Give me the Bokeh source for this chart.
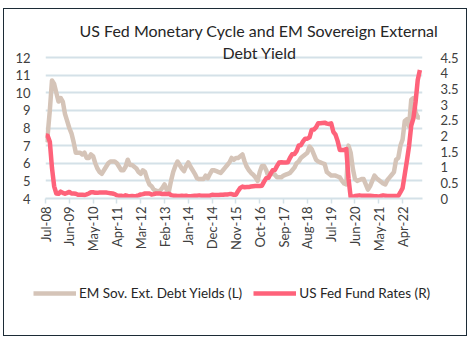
import pandas as pd
from bokeh.plotting import figure
from bokeh.layouts import column
from bokeh.models import (Range1d, LinearAxis, FixedTicker, Label, Legend, LegendItem,
                          ColumnDataSource, Title)
from bokeh.embed import file_html
from bokeh.resources import INLINE
import math

# ---------------- data ----------------
months = [d.strftime("%b-%y") for d in pd.date_range("2008-07-01", "2022-12-01", freq="MS")]

em_yield = [
    7.2, 7.6, 9.0, 10.7, 10.5, 10.0, 9.5, 9.7, 9.5, 8.8, 8.4, 8.0,
    7.7, 7.2, 6.6, 6.6, 6.6, 6.5, 6.6, 6.3, 6.3, 6.5, 6.4, 6.0,
    5.7, 5.5, 5.4, 5.6, 5.8, 6.0, 6.1, 6.1, 6.1, 6.0, 5.8, 5.6,
    5.6, 5.8, 6.2, 5.9, 5.9, 5.8, 5.7, 5.5, 5.4, 5.6, 5.5, 5.1,
    4.8, 4.7, 4.5, 4.45, 4.4, 4.45, 4.6, 4.8, 4.5, 4.4, 5.0, 5.5,
    5.85, 6.1, 5.9, 5.7, 5.55, 5.85, 6.05, 5.8, 5.6, 5.4, 5.15, 5.1,
    5.1, 5.1, 5.3, 5.15, 5.4, 5.6, 5.6, 5.55, 5.5, 5.45, 5.6, 5.75,
    5.9, 6.05, 6.3, 6.2, 6.3, 6.3, 6.4, 6.5, 6.1, 5.8, 5.6, 5.45,
    5.35, 5.2, 5.0, 5.5, 5.85, 5.85, 5.6, 5.25, 5.4, 5.4, 5.35, 5.2,
    5.2, 5.2, 5.3, 5.35, 5.4, 5.45, 5.6, 5.75, 6.0, 6.1, 6.3, 6.4,
    6.5, 6.6, 6.95, 6.8, 6.5, 6.2, 6.1, 6.05, 6.0, 5.95, 5.5, 5.4,
    5.3, 5.3, 5.3, 5.25, 5.2, 5.0, 4.85, 4.8, 7.0, 6.6, 5.7, 5.1,
    5.0, 5.05, 5.1, 5.1, 4.8, 4.5, 4.7, 5.0, 5.3, 5.15, 5.05, 4.95,
    4.85, 4.8, 5.05, 5.2, 5.35, 5.5, 6.2, 6.3, 7.0, 7.35, 8.4, 8.5,
    8.1, 9.6, 9.7, 8.9, 8.6, 8.6,
]

fed_rate = [
    2.01, 2.00, 1.81, 0.97, 0.39, 0.16,
    0.15, 0.22, 0.18, 0.15, 0.18, 0.21, 0.16, 0.16, 0.15, 0.12, 0.12, 0.12,
    0.11, 0.13, 0.16, 0.20, 0.20, 0.18, 0.18, 0.19, 0.19, 0.19, 0.19, 0.18,
    0.17, 0.16, 0.14, 0.10, 0.09, 0.09, 0.07, 0.10, 0.08, 0.07, 0.08, 0.07,
    0.08, 0.10, 0.13, 0.14, 0.16, 0.16, 0.16, 0.13, 0.14, 0.16, 0.16, 0.16,
    0.14, 0.15, 0.14, 0.15, 0.11, 0.09, 0.09, 0.08, 0.08, 0.09, 0.08, 0.09,
    0.07, 0.07, 0.08, 0.09, 0.09, 0.10, 0.09, 0.09, 0.09, 0.09, 0.09, 0.12,
    0.11, 0.11, 0.11, 0.12, 0.12, 0.13, 0.13, 0.14, 0.14, 0.12, 0.12, 0.24,
    0.34, 0.38, 0.36, 0.37, 0.37, 0.38, 0.39, 0.40, 0.40, 0.40, 0.41, 0.54,
    0.65, 0.66, 0.79, 0.90, 0.91, 1.04, 1.15, 1.16, 1.15, 1.15, 1.16, 1.30,
    1.41, 1.42, 1.51, 1.69, 1.70, 1.82, 1.91, 1.91, 1.95, 2.19, 2.20, 2.27,
    2.40, 2.40, 2.41, 2.42, 2.39, 2.38, 2.40, 2.13, 2.04, 1.83, 1.55, 1.55,
    1.55, 1.58, 0.65, 0.05, 0.05, 0.08, 0.09, 0.10, 0.09, 0.09, 0.09, 0.09,
    0.09, 0.08, 0.07, 0.07, 0.06, 0.08, 0.10, 0.09, 0.08, 0.08, 0.08, 0.08,
    0.08, 0.08, 0.20, 0.33, 0.77, 1.21, 1.68, 2.33, 2.56, 3.08, 3.78, 4.10,
]

left_ticks = [4, 5, 6, 7, 8, 9, 10, 11, 12]
right_ticks = [0, 0.5, 1, 1.5, 2, 2.5, 3, 3.5, 4, 4.5]
right_labels = ["0", "0.5", "1", "1.5", "2", "2.5", "3", "3.5", "4", "4.5"]
label_step = 11

title_lines = ["US Fed Monetary Cycle and EM Sovereign External", "Debt Yield"]
series_names = ["EM Sov. Ext. Debt Yields (L)", "US Fed Fund Rates (R)"]

# ---------------- style ----------------
BEIGE = "#d5c4b8"
RED = "#fe627a"
GRID = "#d4e1e8"
TXT = "#404040"
FONT = "Lato"

# chart box on the page (the chart border sits just outside it)
MX, MY = 4, 9
W, H = 462, 326
SPLIT = 270                 # page y where the legend strip starts
H1 = SPLIT - MY
H2 = H - H1
# main frame edges in page px
FL, FR, FT, FB = 45, 422, 39, 198
PX_PER_UNIT_L = 141 / 8.0     # 4..12 spans page y 198..57
PX_PER_UNIT_R = 141 / 4.5     # 0..4.5 spans page y 198..57

x = list(range(len(months)))
src = ColumnDataSource(dict(x=x, em=em_yield, fed=fed_rate))

p = figure(width=W, height=H1, output_backend="svg", toolbar_location=None, title=None,
           x_range=Range1d(0, 174.2),
           y_range=Range1d(4, 4 + (FB - FT) / PX_PER_UNIT_L),
           min_border_left=FL - MX, min_border_right=(MX + W) - FR,
           min_border_top=FT - MY, min_border_bottom=SPLIT - FB)
p.extra_y_ranges = {"r": Range1d(0, (FB - FT) / PX_PER_UNIT_R)}
p.outline_line_color = None
p.background_fill_color = "white"
p.border_fill_color = "white"

# grid
p.xgrid.grid_line_color = None
p.ygrid.grid_line_color = GRID
p.ygrid.grid_line_width = 2
p.ygrid.ticker = FixedTicker(ticks=left_ticks)

# x axis
xa = p.xaxis[0]
tick_pos = list(range(0, len(months), label_step))
xa.ticker = FixedTicker(ticks=tick_pos)
xa.major_label_overrides = {i: months[i] for i in tick_pos}
xa.major_label_orientation = math.pi / 2
xa.axis_line_color = GRID
xa.axis_line_width = 2
xa.major_tick_line_color = GRID
xa.major_tick_line_width = 1.5
xa.major_tick_out = 5
xa.major_tick_in = 0
xa.minor_tick_line_color = None
xa.major_label_text_font = FONT
xa.major_label_text_font_size = "13px"
xa.major_label_text_color = TXT
xa.major_label_standoff = 3

# left axis
ya = p.yaxis[0]
ya.ticker = FixedTicker(ticks=left_ticks)
ya.axis_line_color = None
ya.major_tick_line_color = None
ya.minor_tick_line_color = None
ya.major_label_text_font = FONT
ya.major_label_text_font_size = "13px"
ya.major_label_text_color = TXT
ya.major_label_standoff = 9

# right axis
ra = LinearAxis(y_range_name="r", ticker=FixedTicker(ticks=right_ticks))
ra.major_label_overrides = {t: l for t, l in zip(right_ticks, right_labels)}
ra.axis_line_color = None
ra.major_tick_line_color = None
ra.minor_tick_line_color = None
ra.major_label_text_font = FONT
ra.major_label_text_font_size = "13px"
ra.major_label_text_color = TXT
ra.major_label_standoff = 12
p.add_layout(ra, "right")

# lines
p.line("x", "em", source=src, color=BEIGE, line_width=4.5, line_join="round")
p.line("x", "fed", source=src, y_range_name="r", color=RED, line_width=4.5,
       line_join="round")

# title: first line in the top panel, second line inside the frame
p.add_layout(Title(text=title_lines[0], align="left", offset=34, standoff=0,
                   text_font=FONT, text_font_size="16px", text_font_style="normal",
                   text_color="#262626"), "above")
p.add_layout(Label(x=259 - FL, y=FB - 52, x_units="screen", y_units="screen",
                   text=title_lines[1], text_align="center", text_baseline="middle",
                   text_font=FONT, text_font_size="16px", text_color="#262626"))

# ---------------- legend strip ----------------
p2 = figure(width=W, height=H2, output_backend="svg", toolbar_location=None, title=None,
            x_axis_type=None, y_axis_type=None,
            x_range=Range1d(-20, -10), y_range=Range1d(0, 1),
            min_border_left=0, min_border_right=0, min_border_top=0, min_border_bottom=0)
p2.outline_line_color = None
p2.xgrid.visible = False
p2.ygrid.visible = False
p2.background_fill_color = "white"
p2.border_fill_color = "white"

frame_left_p2 = MX
if "frame_align" in p2.properties():
    p.frame_align = False
    p2.frame_align = False
else:
    frame_left_p2 = FL

# legend renderers: same series, kept outside p2's visible x range
g1 = p2.line("x", "em", source=src, color=BEIGE, line_width=4.5)
g2 = p2.line("x", "fed", source=src, color=RED, line_width=4.5)
LEG_BOTTOM = 301  # page y of legend row bottom
legend = Legend(items=[LegendItem(label=series_names[0], renderers=[g1]),
                       LegendItem(label=series_names[1], renderers=[g2])],
                orientation="horizontal",
                location=(33 - frame_left_p2, (MY + H) - LEG_BOTTOM),
                padding=0, margin=0, spacing=11, label_standoff=3,
                glyph_width=43, glyph_height=14, label_height=16,
                label_text_font=FONT, label_text_font_size="13.5px",
                label_text_color="#262626", border_line_color=None,
                background_fill_alpha=0)
p2.add_layout(legend, "center")

layout = column(p, p2, spacing=0)
layout.margin = (MY, 475 - MX - W, 345 - MY - H, MX)
layout.styles = {"outline": "1.5px solid #1c2b36"}

open("out.html", "w").write(file_html(layout, INLINE))
